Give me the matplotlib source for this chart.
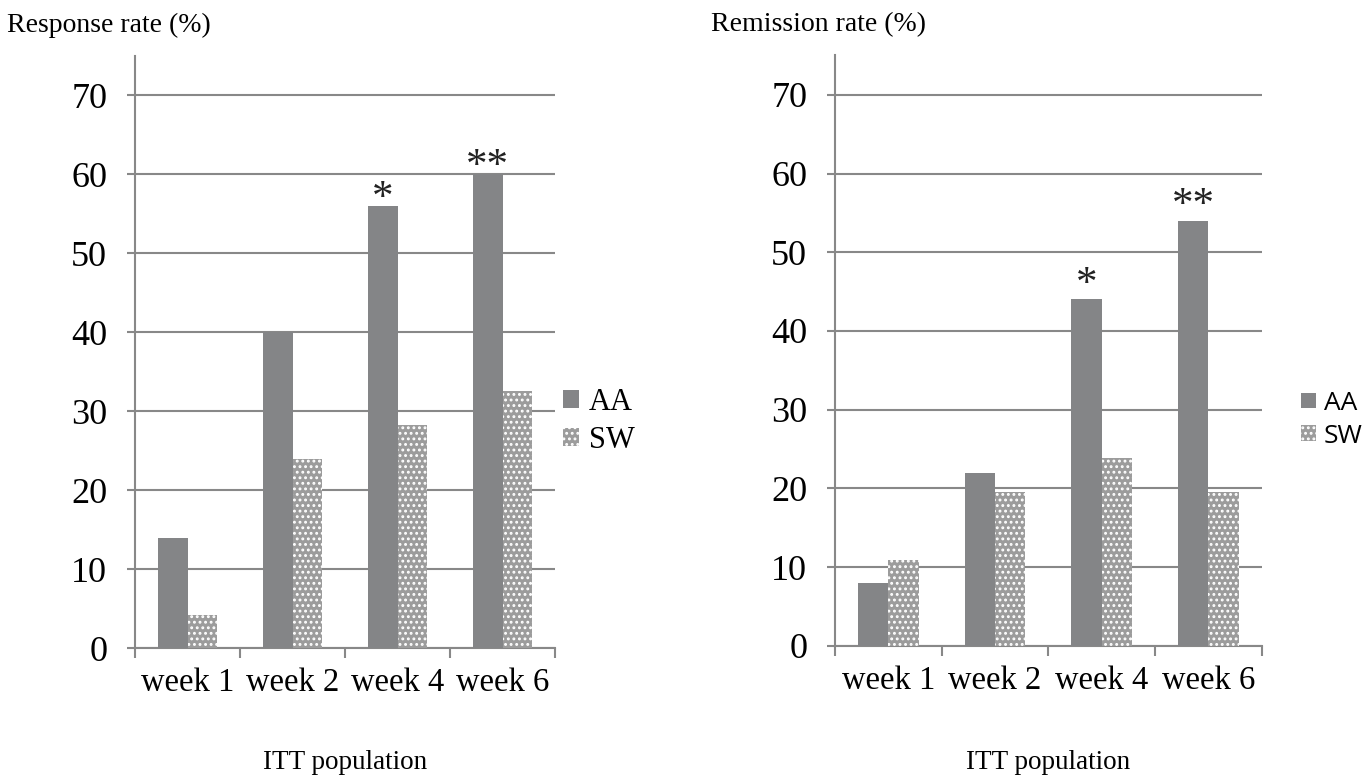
import numpy as np
import matplotlib.pyplot as plt

weeks = ["week 1", "week 2", "week 4", "week 6"]
resp_aa = [14, 40, 56, 60]
resp_sw = [4.2, 23.9, 28.2, 32.6]
remi_aa = [8, 22, 44, 54]
remi_sw = [10.9, 19.6, 23.9, 19.6]
stars = ["", "", "*", "**"]

plt.rcParams["hatch.linewidth"] = 1.3
plt.rcParams["hatch.color"] = "white"

grey = "#888888"
aa_col = "#848587"
sw_col = "#9c9c9c"
serif = "Liberation Serif"

fig = plt.figure(figsize=(13.68, 7.81), dpi=100)


def panel(rect, aa, sw, title, title_x, leg_font, leg_x, star_off):
    ax = fig.add_axes(rect)
    x = np.arange(len(weeks))
    w = 0.285
    ax.bar(x - w / 2, aa, w, color=aa_col, linewidth=0, label="AA", zorder=3)
    ax.bar(x + w / 2, sw, w, color=sw_col, edgecolor="white", linewidth=0,
           hatch="...", label="SW", zorder=3)
    for xi, v, s in zip(x, aa, stars):
        if s:
            ax.text(xi - w / 2, v + star_off, s, ha="center", va="bottom",
                    fontsize=31, family=serif, color="#222222")
    ax.set_xlim(-0.5, 3.5)
    ax.set_ylim(0, 75)
    ax.set_yticks(range(0, 80, 10))
    ax.yaxis.grid(True, color=grey, linewidth=1.5, zorder=0)
    ax.set_axisbelow(True)
    for sp in ["top", "right"]:
        ax.spines[sp].set_visible(False)
    for sp in ["left", "bottom"]:
        ax.spines[sp].set_color(grey)
        ax.spines[sp].set_linewidth(1.5)
    ax.set_xticks(np.arange(-0.5, 4.0, 1.0))
    ax.set_xticklabels([])
    ax.set_xticks(x, minor=True)
    ax.set_xticklabels(weeks, minor=True, family=serif, fontsize=23.5)
    ax.tick_params(axis="x", which="major", length=7, width=1.5, color=grey)
    ax.tick_params(axis="x", which="minor", length=0, pad=14)
    ax.tick_params(axis="y", length=6, width=1.5, color=grey, pad=14)
    for lab in ax.get_yticklabels():
        lab.set_family(serif)
        lab.set_fontsize(26)
    ax.legend(loc="center left", bbox_to_anchor=(leg_x, 0.383), frameon=False,
              prop=leg_font, handlelength=0.55, handleheight=0.55,
              handletextpad=0.3, labelspacing=0.3, borderpad=0,
              borderaxespad=0)
    fig.text(title_x, 0.968, title, family=serif, fontsize=20, va="center", ha="left")
    cx = rect[0] + rect[2] / 2
    fig.text(cx, 0.015, "ITT population", family=serif, fontsize=19.5, ha="center")
    return ax


panel([0.0987, 0.170, 0.307, 0.7587], resp_aa, resp_sw, "Response rate (%)", 0.005,
      {"family": serif, "size": 22}, 1.018, -1.5)
panel([0.6104, 0.173, 0.312, 0.756], remi_aa, remi_sw, "Remission rate (%)", 0.52,
      {"family": "Open Sans", "size": 19}, 1.092, -0.6)

fig.savefig("out.png", dpi=100)
